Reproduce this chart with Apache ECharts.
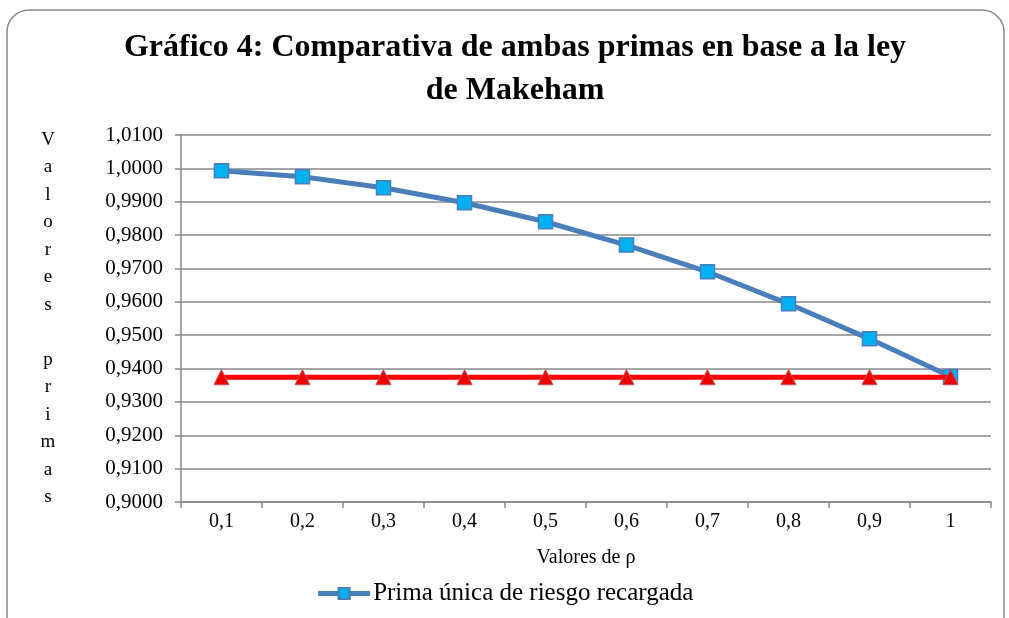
<!DOCTYPE html>
<html>
<head>
  <meta charset="UTF-8">
  <script src="https://cdn.jsdelivr.net/npm/echarts@6/dist/echarts.min.js"></script>
  <style>
    html, body { margin: 0; padding: 0; background: #fff; }
    #main { width: 1009px; height: 618px; }
  </style>
</head>
<body>
  <div id="main"></div>
  <script>
    // valores de rho
    var categorias = ['0,1', '0,2', '0,3', '0,4', '0,5', '0,6', '0,7', '0,8', '0,9', '1'];
    // prima unica de riesgo recargada
    var primaRecargada = [0.9993, 0.9975, 0.9942, 0.9897, 0.9840, 0.9770, 0.9690, 0.9594, 0.9489, 0.9376];
    // prima sin recargo (constante)
    var primaBase = [0.9374, 0.9374, 0.9374, 0.9374, 0.9374, 0.9374, 0.9374, 0.9374, 0.9374, 0.9374];

    var fuente = '"Liberation Serif", "Times New Roman", serif';
    var gris = '#878787';

    var myChart = echarts.init(document.getElementById('main'));

    myChart.setOption({
      animation: false,
      backgroundColor: '#fff',
      title: {
        text: 'Gráfico 4: Comparativa de ambas primas en base a la ley\nde Makeham',
        left: 510,
        textAlign: 'center',
        top: 21,
        textStyle: {
          fontFamily: fuente,
          fontWeight: 'bold',
          fontSize: 32,
          lineHeight: 43,
          color: '#000'
        }
      },
      graphic: [{
        type: 'rect',
        shape: { x: 7, y: 10, width: 997, height: 640, r: 22 },
        style: { fill: null, stroke: '#8a8a8a', lineWidth: 1.5 },
        silent: true,
        z: -1
      }],
      legend: {
        data: [{
          name: 'Prima única de riesgo recargada',
          lineStyle: { width: 5 }
        }],
        bottom: 7,
        left: 'center',
        itemWidth: 52,
        itemHeight: 14,
        itemGap: 4,
        textStyle: { fontFamily: fuente, fontSize: 25, color: '#000', padding: [0, 0, 0, -2] }
      },
      grid: { left: 181, right: 18, top: 135, bottom: 116 },
      xAxis: {
        type: 'category',
        data: categorias,
        boundaryGap: true,
        name: 'Valores de ρ',
        nameLocation: 'middle',
        nameGap: 46,
        nameTextStyle: { fontFamily: fuente, fontSize: 20, color: '#000' },
        axisLine: { lineStyle: { color: gris, width: 1.5 } },
        axisTick: { show: true, length: 6, lineStyle: { color: gris, width: 1.5 } },
        axisLabel: { fontFamily: fuente, fontSize: 20, color: '#000', margin: 10 }
      },
      yAxis: {
        type: 'value',
        min: 0.9,
        max: 1.01,
        interval: 0.01,
        name: 'V\na\nl\no\nr\ne\ns\n \np\nr\ni\nm\na\ns',
        nameLocation: 'middle',
        nameRotate: 0,
        nameGap: 133,
        nameTextStyle: { fontFamily: fuente, fontSize: 19, color: '#000', lineHeight: 27.5, align: 'center' },
        axisLine: { show: true, lineStyle: { color: gris, width: 1.5 } },
        axisTick: { show: true, length: 6, lineStyle: { color: gris, width: 1.5 } },
        splitLine: { lineStyle: { color: gris, width: 1.5 } },
        axisLabel: {
          fontFamily: fuente,
          fontSize: 21,
          color: '#000',
          margin: 18,
          formatter: function (v) { return v.toFixed(4).replace('.', ','); }
        }
      },
      series: [
        {
          name: 'Prima única de riesgo',
          type: 'line',
          data: primaBase,
          symbol: 'triangle',
          symbolSize: 15,
          lineStyle: { color: '#ff0000', width: 5 },
          itemStyle: { color: '#ee0000', borderColor: '#c0504d', borderWidth: 1 },
          z: 3
        },
        {
          name: 'Prima única de riesgo recargada',
          type: 'line',
          data: primaRecargada,
          symbol: 'rect',
          symbolSize: 14,
          lineStyle: { color: '#4a7ebb', width: 5 },
          itemStyle: { color: '#00b0f0', borderColor: '#4a7ebb', borderWidth: 1.5 },
          z: 2
        }
      ]
    });
  </script>
</body>
</html>
